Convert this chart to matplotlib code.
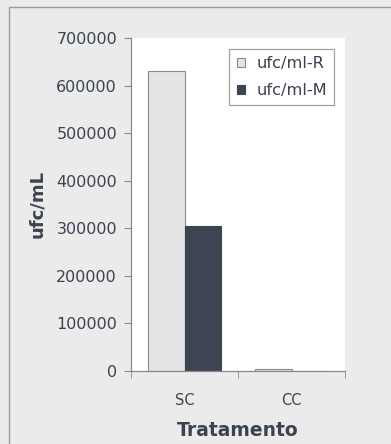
import numpy as np
import matplotlib.pyplot as plt
from matplotlib.patches import Rectangle

# dados
tratamentos = ["SC", "CC"]
ufc_R = [630000, 5000]
ufc_M = [305000, 300]
yticks = [0, 100000, 200000, 300000, 400000, 500000, 600000, 700000]

txt = "#3b4350"
bg = "#ebebeb"

fig = plt.figure(figsize=(3.91, 4.44), dpi=100, facecolor=bg)
# moldura externa
fig.patches.append(Rectangle((9 / 391, -0.1), 1.2, (444 - 7) / 444 + 0.1,
                             transform=fig.transFigure, facecolor="none",
                             edgecolor="#9a9a9a", lw=1.0))
ax = fig.add_axes([131 / 391, 73 / 444, 214 / 391, 333 / 444])
ax.set_facecolor("white")

x = np.arange(len(tratamentos))
w = 0.34
ax.bar(x - w / 2, ufc_R, w, color="#e4e4e4", edgecolor="#8a8a8a", lw=0.8, label="ufc/ml-R")
ax.bar(x + w / 2, ufc_M, w, color="#3e4552", edgecolor="#3e4552", lw=0.8, label="ufc/ml-M")

ax.set_xlim(-0.5, 1.5)
ax.set_ylim(0, 700000)
ax.set_yticks(yticks)
ax.set_yticklabels([str(v) for v in yticks], fontsize=11.5, color=txt)
ax.set_xticks(x)
ax.set_xticklabels(tratamentos, fontsize=10.5, color=txt)
ax.set_xticks([-0.5, 0.5, 1.5], minor=True)
ax.tick_params(axis="x", which="major", length=0, pad=16)
ax.tick_params(axis="x", which="minor", length=5, color="#8a8a8a", direction="out")
ax.tick_params(axis="y", length=5, color="#8a8a8a", pad=5)

for s in ["top", "right"]:
    ax.spines[s].set_visible(False)
for s in ["left", "bottom"]:
    ax.spines[s].set_color("#8a8a8a")
    ax.spines[s].set_linewidth(0.9)

ax.set_ylabel("ufc/mL", fontsize=13, fontweight="bold", color=txt, labelpad=7)
ax.set_xlabel("Tratamento", fontsize=13.5, fontweight="bold", color=txt, labelpad=9)

leg = ax.legend(loc="upper right", bbox_to_anchor=(0.949, 0.967), borderaxespad=0,
                fontsize=11.7, frameon=True, fancybox=False, edgecolor="#8a8a8a",
                handlelength=0.5, handleheight=0.5, handletextpad=0.7,
                borderpad=0.45, labelspacing=0.72, labelcolor=txt)
leg.get_frame().set_linewidth(0.9)

fig.savefig("out.png", dpi=100, facecolor=bg)
